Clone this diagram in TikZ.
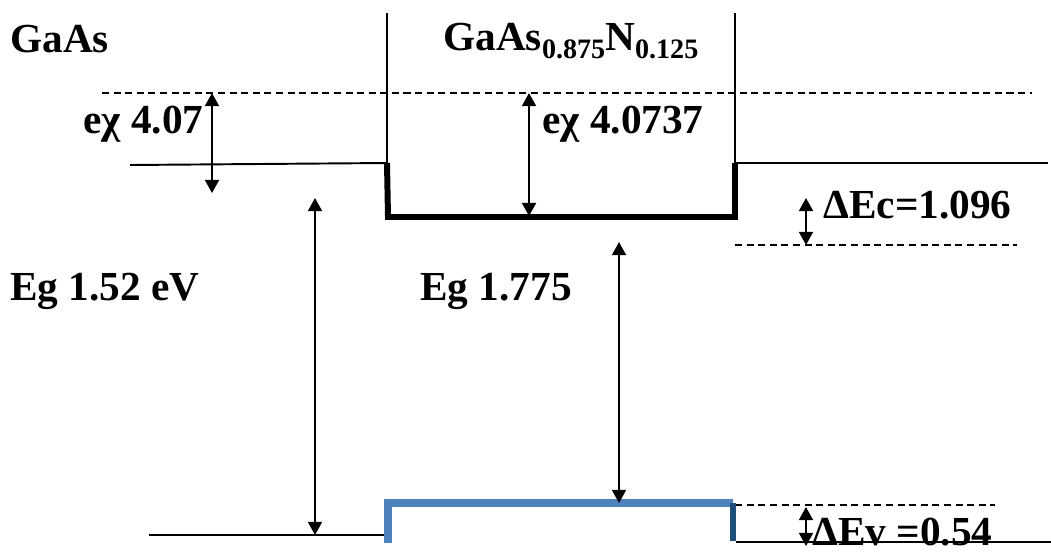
\documentclass[tikz,border=0pt]{standalone}
\usepackage{fontspec}
\setmainfont{Liberation Serif}[BoldFont={Liberation Serif Bold}]
\usetikzlibrary{arrows.meta}
\definecolor{vbblue}{HTML}{4F81BD}
\definecolor{vbdark}{HTML}{1F4E79}
\newcommand{\subsz}[1]{{\fontsize{16}{16}\selectfont\raisebox{-0.3em}{#1}}}

\begin{document}
\begin{tikzpicture}[x=0.02cm, y=-0.02cm,
  lbl/.style={anchor=base west, inner sep=0pt, font=\rmfamily\fontsize{23.5}{28}\selectfont\bfseries},
  band/.style={line width=1.1pt},
  well/.style={line width=3.4pt, line join=miter},
  vac/.style={line width=0.9pt, dash pattern=on 4pt off 2.6pt},
  dim/.style={{Triangle[length=7.5pt,width=8pt]}-{Triangle[length=7.5pt,width=8pt]}, line width=1.1pt}
]
\useasboundingbox (0,0) rectangle (1051,552);

% levels
\coordinate (vacL) at (102,93);
\coordinate (vacR) at (1032,93);
\coordinate (cbL) at (130,165);
\coordinate (wellTL) at (387,163);
\coordinate (wellTR) at (735,163);
\coordinate (cbR) at (1048,163);
\coordinate (wallLtop) at (387,13);
\coordinate (wallRtop) at (735,13);
\coordinate (wellBL) at (388,217);
\coordinate (wellBR) at (735,217);
\coordinate (ecL) at (735,245);
\coordinate (ecR) at (1017,245);
\coordinate (vbL) at (149,535);
\coordinate (vbLend) at (385,535);
\coordinate (barBL) at (388,543);
\coordinate (barTL) at (388,503);
\coordinate (barTR) at (733,503);
\coordinate (barBR) at (733,541);
\coordinate (vbR0) at (736,542);
\coordinate (vbR) at (1051,542);
\coordinate (evL) at (712,505);
\coordinate (evR) at (995,505);

% arrow ends
\coordinate (chiLt) at (212,93);
\coordinate (chiLb) at (212,193);
\coordinate (chiWt) at (529,93);
\coordinate (chiWb) at (529,216);
\coordinate (egLt) at (315,198);
\coordinate (egLb) at (315,535);
\coordinate (egWt) at (619,242);
\coordinate (egWb) at (619,503);
\coordinate (decT) at (806,198);
\coordinate (decB) at (806,245);
\coordinate (devT) at (806,507);
\coordinate (devB) at (806,546);

% lines
\draw[vac] (vacL) -- (vacR);
\draw[vac] (ecL) -- (ecR);
\draw[vac] (evL) -- (evR);
\draw[band] (wallLtop) -- (wellTL);
\draw[band] (wallRtop) -- (wellTR);
\draw[band] (cbL) -- (wellTL);
\draw[band] (wellTR) -- (cbR);
\draw[well] (wellTL) -- (wellBL) -- (wellBR) -- (wellTR);
\draw[band] (vbL) -- (vbLend);
\draw[band] (vbR0) -- (vbR);
\draw[vbblue, line width=4pt, line join=miter] (barBL) -- (barTL) -- (barTR);
\draw[vbdark, line width=3.4pt] (barTR) -- (barBR);

% arrows
\draw[dim] (chiLt) -- (chiLb);
\draw[dim] (chiWt) -- (chiWb);
\draw[dim] (egLt) -- (egLb);
\draw[dim] (egWt) -- (egWb);
\draw[dim] (decT) -- (decB);
\draw[dim] (devT) -- (devB);

% labels
\node[lbl] (gaas) at (10,52) {GaAs};
\node[lbl] (gaasn) at (443,50) {GaAs\subsz{0.875}N\subsz{0.125}};
\node[lbl] (chiL) at (83,133) {eχ 4.07};
\node[lbl] (chiW) at (542,133) {eχ 4.0737};
\node[lbl] (dec) at (823,218) {ΔEc=1.096};
\node[lbl] (egL) at (10,300) {Eg 1.52 eV};
\node[lbl] (egW) at (420,300) {Eg 1.775};
\node[lbl] (dev) at (812,545) {ΔEv =0.54};
\end{tikzpicture}
\end{document}
